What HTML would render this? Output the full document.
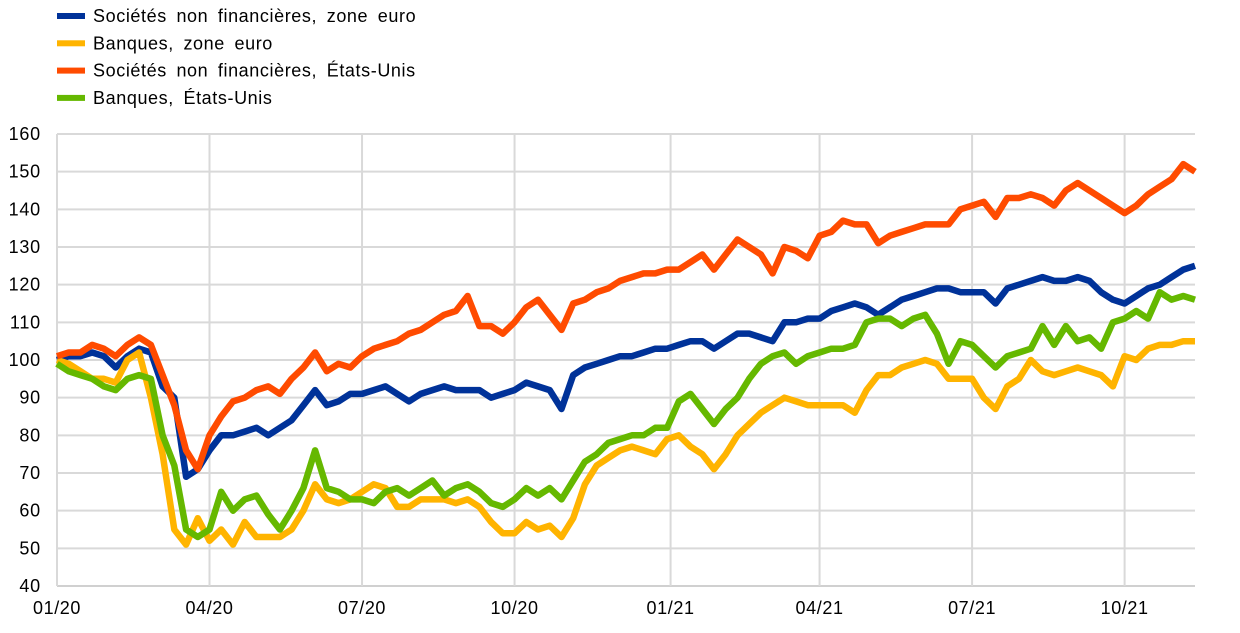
<!DOCTYPE html>
<html><head><meta charset="utf-8"><style>
body{margin:0;background:#fff;font-family:"Liberation Sans",Arial,sans-serif}
svg text{font-family:"Liberation Sans",Arial,sans-serif;font-size:18px;fill:#000}
</style></head><body>
<svg id="chart" width="1240" height="628" viewBox="0 0 1240 628" xmlns="http://www.w3.org/2000/svg">
<g id="grid"></g>
<g id="series"></g>
<g id="axes"></g>
<g id="legend"></g>
</svg>
<script>
const yTicks=[40,50,60,70,80,90,100,110,120,130,140,150,160];
const xTickLabels=["01/20","04/20","07/20","10/20","01/21","04/21","07/21","10/21"];
const xTickWeeks=[0,13,26,39,52.3,65,78,91];
const seriesNames=["Sociétés non financières, zone euro","Banques, zone euro","Sociétés non financières, États-Unis","Banques, États-Unis"];
const nfcEuro=[100,101,101,102,101,98,101,103,102,93,90,69,71,76,80,80,81,82,80,82,84,88,92,88,89,91,91,92,93,91,89,91,92,93,92,92,92,90,91,92,94,93,92,87,96,98,99,100,101,101,102,103,103,104,105,105,103,105,107,107,106,105,110,110,111,111,113,114,115,114,112,114,116,117,118,119,119,118,118,118,115,119,120,121,122,121,121,122,121,118,116,115,117,119,120,122,124,125];
const banksEuro=[100,99,97,95,95,94,100,102,90,75,55,51,58,52,55,51,57,53,53,53,55,60,67,63,62,63,65,67,66,61,61,63,63,63,62,63,61,57,54,54,57,55,56,53,58,67,72,74,76,77,76,75,79,80,77,75,71,75,80,83,86,88,90,89,88,88,88,88,86,92,96,96,98,99,100,99,95,95,95,90,87,93,95,100,97,96,97,98,97,96,93,101,100,103,104,104,105,105];
const nfcUS=[101,102,102,104,103,101,104,106,104,96,88,76,71,80,85,89,90,92,93,91,95,98,102,97,99,98,101,103,104,105,107,108,110,112,113,117,109,109,107,110,114,116,112,108,115,116,118,119,121,122,123,123,124,124,126,128,124,128,132,130,128,123,130,129,127,133,134,137,136,136,131,133,134,135,136,136,136,140,141,142,138,143,143,144,143,141,145,147,145,143,141,139,141,144,146,148,152,150];
const banksUS=[99,97,96,95,93,92,95,96,95,80,72,55,53,55,65,60,63,64,59,55,60,66,76,66,65,63,63,62,65,66,64,66,68,64,66,67,65,62,61,63,66,64,66,63,68,73,75,78,79,80,80,82,82,89,91,87,83,87,90,95,99,101,102,99,101,102,103,103,104,110,111,111,109,111,112,107,99,105,104,101,98,101,102,103,109,104,109,105,106,103,110,111,113,111,118,116,117,116];
const colors=["#003299","#FFB400","#FF4B00","#65B800"];
const NS="http://www.w3.org/2000/svg";
const L=57,R=1195,T=134,B=586;
const xs=w=>L+w*(R-L)/97;
const ys=v=>B-(v-40)*(B-T)/120;
function mk(tag,attrs,parent){const e=document.createElementNS(NS,tag);for(const k in attrs)e.setAttribute(k,attrs[k]);parent.appendChild(e);return e;}
const grid=document.getElementById('grid'),axes=document.getElementById('axes'),ser=document.getElementById('series'),leg=document.getElementById('legend');
yTicks.forEach(v=>{
  const ln=mk('line',{x1:L,x2:R,y1:ys(v),y2:ys(v),stroke:v===40?'#d0d0d0':'#d9d9d9','stroke-width':2},grid);
  
  
  const t=mk('text',{x:41,y:ys(v)+6,'text-anchor':'end','letter-spacing':'0.8'},axes);
  t.textContent=v;
  
  
});
xTickWeeks.forEach((w,i)=>{
  const ln=mk('line',{x1:xs(w),x2:xs(w),y1:T,y2:B,stroke:'#d9d9d9','stroke-width':2},grid);
  
  
  const t=mk('text',{x:xs(w),y:614,'text-anchor':'middle','letter-spacing':'0.6'},axes);
  t.textContent=xTickLabels[i];
  
  
});
const data=[nfcEuro,banksEuro,nfcUS,banksUS];
const names=['line-nfc-euro','line-banks-euro','line-nfc-us','line-banks-us'];
[0,1,2,3].forEach(i=>{
  const d=data[i].map((v,w)=>(w?'L':'M')+xs(w).toFixed(1)+' '+ys(v).toFixed(1)).join(' ');
  const p=mk('path',{d:d,fill:'none',stroke:colors[i],'stroke-width':6.5,'stroke-linejoin':'round'},ser);
  
  
});
seriesNames.forEach((n,i)=>{
  const g=mk('g',{},leg);
  
  
  const y=16+i*27.3;
  mk('rect',{x:57,y:y-3,width:28,height:6,fill:colors[i]},g);
  const t=mk('text',{x:93,y:y+6,'letter-spacing':'0.6','word-spacing':'4'},g);
  t.textContent=n;
});
</script>
</body></html>
